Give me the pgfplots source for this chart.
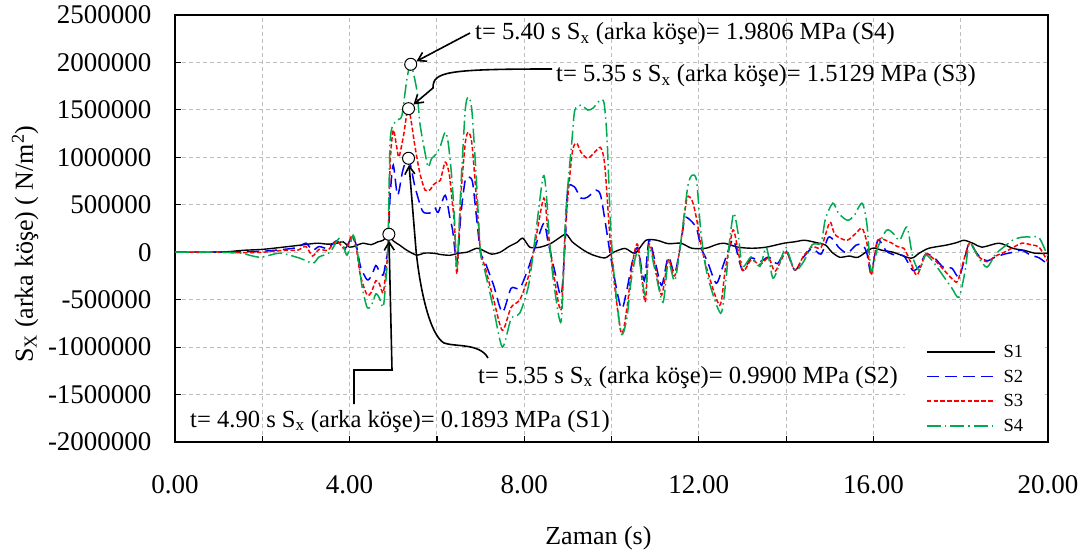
\documentclass[border=0pt]{standalone}
\usepackage{fontspec}
\setmainfont{Liberation Serif}
\usepackage{pgfplots}
\pgfplotsset{compat=1.18}
\usetikzlibrary{arrows.meta}
\definecolor{sblue}{RGB}{0,0,255}
\definecolor{sred}{RGB}{255,0,0}
\definecolor{sgreen}{RGB}{0,170,80}
\definecolor{gridgray}{RGB}{190,190,190}

\pgfplotstableread{
x y
0 0
0.8 0
1.2 5000
1.56 20000
2.0 30000
2.47 53000
2.86 74000
3.25 95000
3.5 85000
3.71 95000
3.85 110000
4.0 53000
4.15 70000
4.3 95000
4.5 80000
4.65 110000
4.77 126000
4.9 189300
5.0 120000
5.15 74000
5.31 21000
5.54 -31600
5.7 -10000
5.91 -10000
6.1 -25000
6.3 -31600
6.5 -10000
6.69 0
6.92 42000
7.1 10000
7.25 -20000
7.45 0
7.65 60000
7.84 105000
7.97 148000
8.13 53000
8.36 53000
8.6 90000
8.8 150000
8.96 190000
9.1 110000
9.26 53000
9.4 10000
9.58 -30000
9.85 -60000
10.05 0
10.31 40000
10.54 -10000
10.79 126000
11.04 126000
11.3 90000
11.59 95000
11.84 42000
12.16 42000
12.4 80000
12.58 95000
12.9 53000
13.22 42000
13.54 53000
13.95 95000
14.2 110000
14.43 126000
14.75 95000
14.91 74000
15.05 0
15.23 -53000
15.45 -40000
15.65 -53000
15.97 42000
16.2 20000
16.45 0
16.86 -63000
17.05 -10000
17.27 42000
17.66 74000
17.9 100000
18.08 126000
18.3 90000
18.49 53000
18.88 95000
19.2 40000
19.45 20000
19.7 -10000
20.0 -10000
}\dataA

\pgfplotstableread{
x y
0 0
1.0 0
1.5 5000
2.0 10000
2.5 30000
2.8 50000
3.0 95000
3.15 20000
3.3 60000
3.5 40000
3.7 120000
3.9 40000
4.05 160000
4.15 80000
4.25 -150000
4.4 -290000
4.5 -250000
4.6 -140000
4.68 -200000
4.77 -240000
4.83 -100000
4.88 50000
4.93 600000
5.0 918000
5.1 600000
5.22 865000
5.35 990000
5.5 685000
5.66 443000
5.77 411000
5.88 420000
5.96 464000
6.03 420000
6.19 600000
6.3 358000
6.36 232000
6.46 -100000
6.55 400000
6.65 760000
6.75 790000
6.82 730000
6.9 400000
7.0 0
7.1 -100000
7.3 -350000
7.5 -633000
7.7 -380000
7.9 -380000
8.1 -160000
8.25 50000
8.45 306000
8.55 100000
8.7 -200000
8.85 -450000
8.95 200000
9.0 675000
9.15 690000
9.3 570000
9.45 580000
9.65 654000
9.75 600000
9.85 338000
10.0 -100000
10.22 -590000
10.35 -400000
10.47 -116000
10.6 50000
10.75 -300000
10.86 126000
11.0 -100000
11.15 -350000
11.3 -50000
11.45 -220000
11.6 126000
11.68 359000
11.8 340000
11.95 250000
12.05 50000
12.2 -100000
12.4 -327000
12.55 -150000
12.7 50000
12.8 126000
13.0 -190000
13.2 -60000
13.4 -100000
13.6 -50000
13.8 -120000
14.0 10000
14.2 -190000
14.4 -50000
14.6 40000
14.8 -20000
14.97 158000
15.1 120000
15.2 53000
15.4 -10000
15.6 74000
15.75 80000
15.85 -10000
15.95 -220000
16.1 126000
16.3 10000
16.5 -30000
16.7 -40000
16.9 -190000
17.05 -150000
17.2 -20000
17.4 -60000
17.6 -158000
17.8 -169000
17.96 -264000
18.1 -50000
18.2 95000
18.4 -30000
18.6 -90000
18.8 -50000
19.0 -20000
19.2 0
19.4 21000
19.6 -30000
19.8 -60000
20.0 -130000
}\dataB

\pgfplotstableread{
x y
0 0
1.0 0
1.5 -5000
2.0 0
2.5 20000
2.8 20000
3.0 60000
3.15 -40000
3.3 30000
3.5 20000
3.7 120000
3.9 30000
4.05 170000
4.15 50000
4.25 -250000
4.4 -450000
4.5 -420000
4.6 -300000
4.68 -330000
4.77 -430000
4.83 -200000
4.88 50000
4.93 939000
5.0 1287000
5.08 1107000
5.13 1002000
5.23 1213000
5.35 1512900
5.5 1107000
5.61 833000
5.73 654000
5.85 660000
5.91 707000
6.0 738000
6.08 760000
6.19 949000
6.28 833000
6.34 580000
6.4 306000
6.46 -230000
6.55 600000
6.65 1150000
6.72 1265000
6.8 1150000
6.9 600000
7.0 0
7.1 -150000
7.3 -500000
7.5 -823000
7.7 -580000
7.9 -500000
8.1 -250000
8.25 100000
8.45 570000
8.55 200000
8.7 -300000
8.85 -600000
8.95 300000
9.1 1044000
9.2 1150000
9.3 1055000
9.46 990000
9.66 1076000
9.76 1097000
9.85 897000
10.0 -50000
10.22 -844000
10.35 -600000
10.47 -150000
10.6 80000
10.77 -527000
10.86 80000
11.0 -150000
11.15 -450000
11.3 -80000
11.45 -250000
11.6 150000
11.73 570000
11.85 540000
11.95 350000
12.05 80000
12.2 -200000
12.48 -560000
12.6 -200000
12.7 50000
12.8 232000
13.0 -190000
13.2 -80000
13.4 -130000
13.6 -60000
13.75 -200000
14.0 0
14.2 -190000
14.4 -40000
14.6 60000
14.8 50000
15.0 316000
15.1 200000
15.2 158000
15.4 126000
15.6 200000
15.74 253000
15.85 100000
15.95 -240000
16.1 126000
16.38 105000
16.55 60000
16.7 40000
16.85 -100000
17.0 -243000
17.2 -20000
17.4 -80000
17.6 -180000
17.9 -316000
18.0 -200000
18.2 95000
18.4 -40000
18.6 -100000
18.8 -40000
19.0 0
19.2 50000
19.4 95000
19.6 80000
19.8 50000
20.0 -105000
}\dataC

\pgfplotstableread{
x y
0 0
1.0 0
1.5 -10000
1.95 -53000
2.4 -10000
2.86 -63000
3.16 -116000
3.3 -50000
3.55 0
3.78 150000
3.94 -31000
4.08 180000
4.18 0
4.28 -350000
4.4 -580000
4.5 -560000
4.6 -440000
4.68 -480000
4.77 -580000
4.83 -300000
4.88 50000
4.93 1181000
5.04 1371000
5.12 1400000
5.2 1445000
5.31 1814000
5.40 1980600
5.54 1709000
5.61 1360000
5.73 1044000
5.8 897000
5.88 990000
5.96 1023000
6.07 1107000
6.19 1266000
6.26 1150000
6.34 791000
6.4 369000
6.46 -150000
6.55 700000
6.65 1500000
6.72 1635000
6.8 1500000
6.9 800000
7.0 0
7.1 -200000
7.3 -600000
7.5 -1000000
7.7 -700000
7.9 -640000
8.1 -350000
8.25 150000
8.43 790000
8.5 650000
8.6 0
8.7 -400000
8.85 -720000
8.95 400000
9.1 1213000
9.16 1498000
9.3 1550000
9.46 1498000
9.58 1520000
9.74 1603000
9.83 1570000
9.9 1181000
9.97 369000
10.05 -200000
10.22 -854000
10.35 -700000
10.45 -300000
10.6 0
10.77 -450000
10.86 60000
11.0 -200000
11.18 -527000
11.3 -100000
11.45 -300000
11.6 150000
11.75 700000
11.85 812000
11.95 750000
12.05 200000
12.2 -250000
12.5 -643000
12.62 -300000
12.7 100000
12.8 411000
12.9 200000
13.0 -150000
13.2 -50000
13.4 -150000
13.55 50000
13.7 -274000
13.9 -50000
14.0 50000
14.2 -190000
14.4 -100000
14.6 80000
14.8 100000
14.9 350000
15.07 517000
15.2 411000
15.4 337000
15.55 380000
15.74 517000
15.85 300000
15.95 -200000
16.1 50000
16.3 232000
16.45 200000
16.6 126000
16.77 264000
16.9 -50000
17.05 -190000
17.2 -30000
17.4 -120000
17.6 -250000
17.8 -380000
17.96 -475000
18.1 -200000
18.2 95000
18.4 -50000
18.6 -158000
18.8 -20000
19.0 60000
19.2 130000
19.4 158000
19.6 160000
19.8 150000
20.0 -50000
}\dataD

\begin{document}
\begin{tikzpicture}
\useasboundingbox (0,0) rectangle (1091pt,555pt);
\begin{axis}[
  at={(175pt,113pt)}, anchor=south west,
  scale only axis, width=873pt, height=427pt,
  xmin=0, xmax=20, ymin=-2000000, ymax=2500000,
  xtick={0,2,...,20},
  xticklabels={0.00,,4.00,,8.00,,12.00,,16.00,,20.00},
  ytick={-2000000,-1500000,-1000000,-500000,0,500000,1000000,1500000,2000000,2500000},
  yticklabels={-2000000,-1500000,-1000000,-500000,0,500000,1000000,1500000,2000000,2500000},
  scaled ticks=false,
  tick align=inside, xtick pos=bottom, ytick pos=left,
  major tick length=6pt,
  major tick style={black, line width=1.2pt},
  axis line style={black, line width=1.6pt},
  grid=major,
  major grid style={gridgray, line width=0.9pt, dash pattern=on 4pt off 3pt},
  tick label style={font=\fontsize{27}{30}\selectfont, inner sep=0pt},
  xticklabel style={yshift=-33pt},
  yticklabel style={xshift=-23.3pt},
  label style={font=\fontsize{26}{30}\selectfont},
  xlabel={Zaman (s)},
  xlabel style={at={(axis description cs:0.485,0)}, anchor=north, inner sep=0pt, yshift=-84pt},
  ylabel={S\textsubscript{X} (arka köşe) ( N/m\textsuperscript{2})},
  ylabel style={at={(axis description cs:-0.1718,0.4637)}, anchor=center, inner sep=0pt},
  legend style={at={(axis description cs:0.836,0.2459)}, anchor=north west, draw=white, fill=white,
    font=\fontsize{18.5}{22}\selectfont, inner xsep=21pt, inner ysep=8pt, row sep=10.8pt,
    nodes={inner sep=0pt}, /tikz/every odd column/.append style={column sep=8pt}},
  legend cell align=left,
  every axis plot/.append style={smooth, tension=0.45},
]
\addlegendimage{legend image code/.code={\draw[black, draw=black, line width=1.5pt] (0pt,0pt) -- (68pt,0pt);}}
\addlegendentry{S1}
\addlegendimage{legend image code/.code={\draw[sblue, draw=sblue, line width=1.6pt, dash pattern=on 12pt off 6pt] (0pt,0pt) -- (68pt,0pt);}}
\addlegendentry{S2}
\addlegendimage{legend image code/.code={\draw[sred, draw=sred, line width=1.6pt, dash pattern=on 4.5pt off 2.3pt] (0pt,0pt) -- (68pt,0pt);}}
\addlegendentry{S3}
\addlegendimage{legend image code/.code={\draw[sgreen, draw=sgreen, line width=1.6pt, dash pattern=on 14pt off 4pt on 1.5pt off 4pt] (0pt,0pt) -- (68pt,0pt);}}
\addlegendentry{S4}
\addplot[color=black, draw=black, line width=1.4pt, forget plot] table[x=x,y=y] {\dataA};
\addplot[color=sblue, draw=sblue, line width=1.5pt, dash pattern=on 12pt off 6pt, forget plot] table[x=x,y=y] {\dataB};
\addplot[color=sred, draw=sred, line width=1.5pt, dash pattern=on 4.5pt off 2.3pt, forget plot] table[x=x,y=y] {\dataC};
\addplot[color=sgreen, draw=sgreen, line width=1.5pt, dash pattern=on 14pt off 4pt on 1.5pt off 4pt, forget plot] table[x=x,y=y] {\dataD};
\addplot[only marks, mark=*, mark size=6pt, mark options={fill=white, draw=black, line width=1pt, solid}, forget plot]
  coordinates {(4.9,189300) (5.35,990000) (5.35,1512900) (5.4,1980600)};
\coordinate (p1) at (axis cs:4.9,189300);
\coordinate (p2) at (axis cs:5.35,990000);
\coordinate (p3) at (axis cs:5.35,1512900);
\coordinate (p4) at (axis cs:5.4,1980600);
\end{axis}
\begin{scope}[x=1pt, y=-1pt, shift={(0pt,555pt)}]
\tikzset{ann/.style={line width=1.6pt, black, -{Straight Barb[length=8pt,width=10pt]}, shorten >=6.5pt},
  atext/.style={anchor=base west, inner sep=0pt, font=\fontsize{24.6}{28}\selectfont}}
\draw[ann] (470,33) -- (p4);
\draw[ann] (552,69) .. controls (445,69) and (433,72) .. (433,88) -- (p3);
\draw[ann] (488,358) .. controls (480,343) and (455,347) .. (444,343) .. controls (430,335) and (420,290) .. (416,250) -- (p2);
\draw[ann] (354,404) -- (354,370) -- (392,370) -- (p1);
\node[atext] at (475,40) {t= 5.40 s S\textsubscript{x} (arka köşe)= 1.9806 MPa (S4)};
\node[atext] at (556,82) {t= 5.35 s S\textsubscript{x} (arka köşe)= 1.5129 MPa (S3)};
\node[atext] at (478,383) {t= 5.35 s S\textsubscript{x} (arka köşe)= 0.9900 MPa (S2)};
\node[atext] at (190,427) {t= 4.90 s S\textsubscript{x} (arka köşe)= 0.1893 MPa (S1)};
\end{scope}
\end{tikzpicture}
\end{document}
